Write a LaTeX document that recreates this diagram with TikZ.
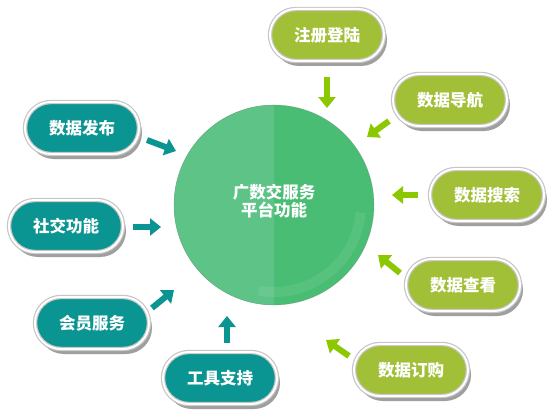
\documentclass[tikz,border=0pt]{standalone}
\usepackage{fontspec}
\setmainfont{Noto Sans CJK SC}
\usetikzlibrary{shadows,arrows.meta}
\definecolor{tealfill}{HTML}{0A9592}
\definecolor{limefill}{HTML}{A2C037}
\definecolor{tealarr}{HTML}{0A9592}
\definecolor{limearr}{HTML}{8CC800}
\definecolor{lgreen}{HTML}{5DC387}
\definecolor{dgreen}{HTML}{49BD73}
\tikzstyle{pill}=[rounded corners=26pt,minimum width=114pt,minimum height=52pt,inner sep=0pt,draw=gray!45,line width=1.2pt,double=white,double distance=2pt,drop shadow={shadow xshift=3pt,shadow yshift=-5pt,fill=gray!75,opacity=1},text=white,font=\fontsize{16.5}{18}\selectfont\bfseries]
\tikzstyle{myarrow}=[line width=6pt,-{Triangle[width=17pt,length=11pt]}]

\begin{document}
\begin{tikzpicture}[x=1pt,y=-1pt]
		\fill[white] (0,0) rectangle (557,420);
		\useasboundingbox (0,0) rectangle (557,420);

		% hub
		\fill[dgreen] (274,205) circle (100);
		\begin{scope}
			\clip (170,100) rectangle (274,310);
			\fill[lgreen] (274,205) circle (100);
		\end{scope}
		\draw[white,opacity=.08,line width=10pt] (274,205) ++(5:87) arc (5:100:87);
		\draw[gray,opacity=.35,line width=.6pt] (274,205) circle (100);
		\node[align=center,text=white,font=\fontsize{16.5}{18.5}\selectfont\bfseries] (mid) at (274,201) {广数交服务\\平台功能};

		\foreach \n / \x / \y / \c / \t in {1/82/128/tealfill/数据发布,2/66/226/tealfill/社交功能,3/92/323/tealfill/会员服务,4/220/378/tealfill/工具支持,5/327/35/limefill/注册登陆,6/450/100/limefill/数据导航,7/487/195/limefill/数据搜索,8/463/285/limefill/数据查看,9/411/370/limefill/数据订购} {
			\node[pill,fill=\c] (p\n) at (\x,\y) {\t};
		}

		\foreach \n / \a / \b / \u / \v / \c in {1/147/140/176/151/tealarr,2/133/227/161/227/tealarr,3/152/308/174/290/tealarr,4/227/343/227/316/tealarr,5/327/77/327/108/limearr,6/389/121/367/137/limearr,7/418/195/392/195/limearr,8/400/273/378/255/limearr,9/349/356/326/340/limearr} {
			\coordinate (t\n) at (\a,\b);
			\coordinate (h\n) at (\u,\v);
			\draw[myarrow,\c] (t\n) -- (h\n);
		}
	\end{tikzpicture}
\end{document}
